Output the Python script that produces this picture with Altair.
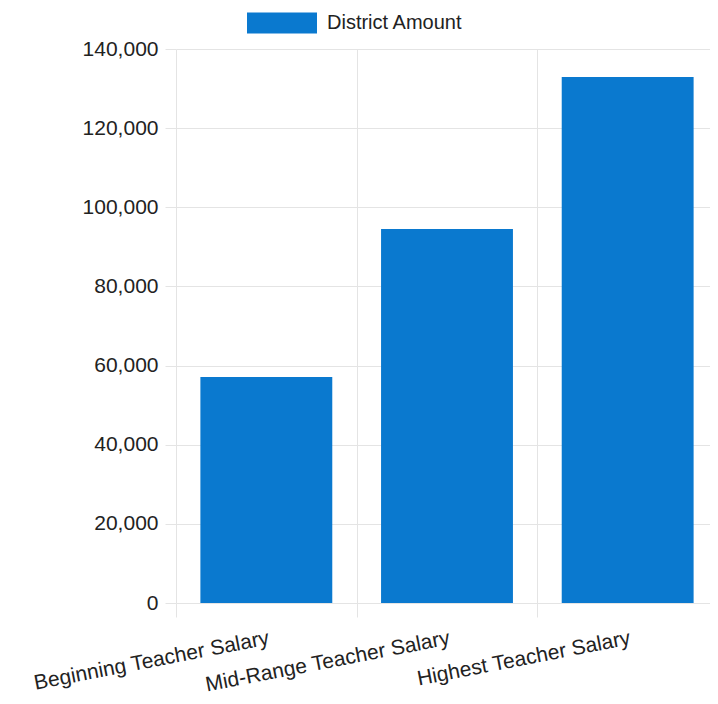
import altair as alt
import pandas as pd

categories = ["Beginning Teacher Salary", "Mid-Range Teacher Salary", "Highest Teacher Salary"]
values = [57100, 94500, 132900]
series_name = "District Amount"
y_ticks = [0, 20000, 40000, 60000, 80000, 100000, 120000, 140000]

df = pd.DataFrame({"category": categories, "value": values, "series": [series_name] * len(categories)})

FONT = "Liberation Sans"
GRID = "#e4e4e4"
BLUE = "#0a79cf"
TEXT = "#222222"

chart = alt.Chart(df).mark_bar(width=alt.RelativeBandSize(0.73), color=BLUE).encode(
    x=alt.X(
        "category:N",
        sort=categories,
        title=None,
        scale=alt.Scale(paddingInner=0, paddingOuter=0, range=[0, 542]),
        axis=alt.Axis(
            labelAngle=-11,
            labelAlign="right",
            labelBaseline="top",
            labelFontSize=21,
            labelFont=FONT,
            labelColor=TEXT,
            labelPadding=10,
            labelLimit=0,
            tickBand="extent",
            grid=True,
            gridColor=GRID,
            gridWidth=1,
            tickColor=GRID,
            tickSize=14,
            domain=False,
        ),
    ),
    y=alt.Y(
        "value:Q",
        title=None,
        scale=alt.Scale(domain=[0, 140000], nice=False),
        axis=alt.Axis(
            values=y_ticks,
            format=",d",
            labelFontSize=21,
            labelFont=FONT,
            labelColor=TEXT,
            labelPadding=7,
            grid=True,
            gridColor=GRID,
            tickColor=GRID,
            tickSize=11,
            domain=False,
        ),
    ),
    color=alt.Color(
        "series:N",
        scale=alt.Scale(range=[BLUE]),
        legend=alt.Legend(
            title=None,
            orient="none",
            legendX=96,
            legendY=-36,
            symbolType="M-3.5,-1.05H3.5V1.05H-3.5Z",
            symbolSize=400,
            symbolStrokeWidth=0,
            symbolOpacity=1,
            labelFontSize=20,
            labelFont=FONT,
            labelColor=TEXT,
            labelOffset=35,
            padding=0,
        ),
    ),
).properties(
    width=534,
    height=554,
    autosize=alt.AutoSizeParams(type="none"),
    padding={"left": 168, "top": 41, "right": 0, "bottom": 92},
    background="white",
).configure_view(stroke=None)

chart.save("out.html", embed_options={"renderer": "svg", "actions": False})
